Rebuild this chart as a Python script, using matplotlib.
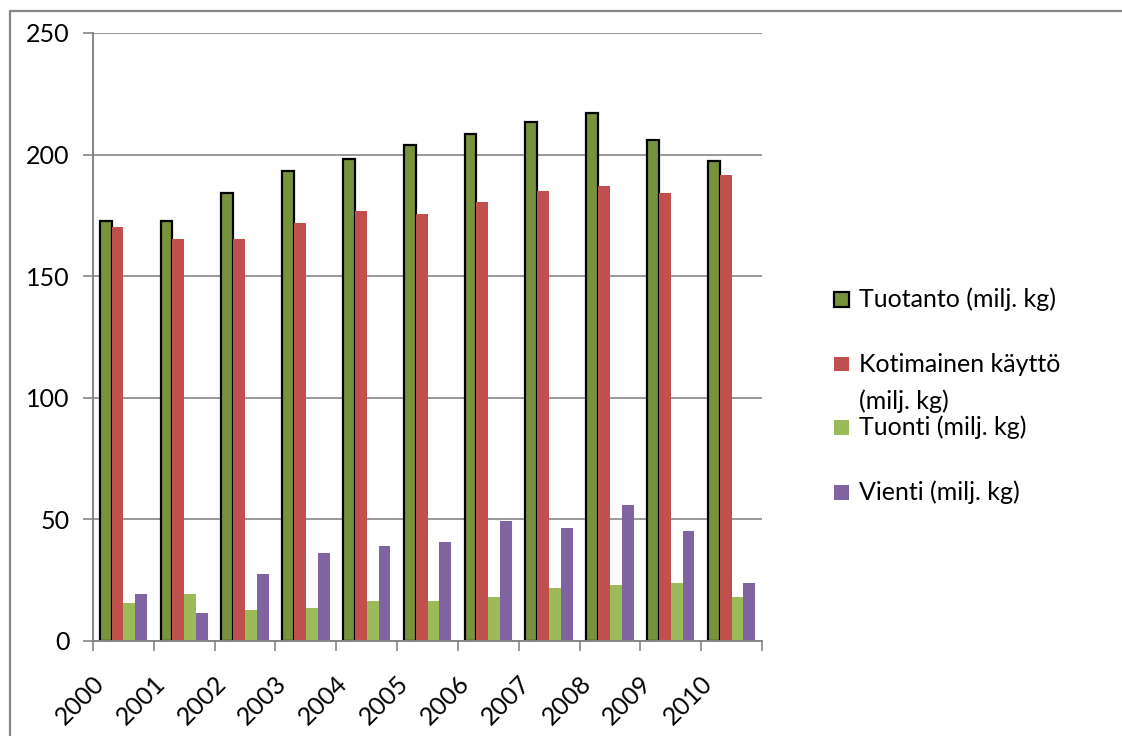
import numpy as np
import matplotlib
matplotlib.use('Agg')
import matplotlib.pyplot as plt
from matplotlib.patches import Rectangle
from matplotlib.lines import Line2D
from matplotlib.transforms import ScaledTranslation

plt.rcParams['font.family'] = ['Lato', 'DejaVu Sans']

# data (milj. kg)
years = ['2000', '2001', '2002', '2003', '2004', '2005', '2006', '2007', '2008', '2009', '2010']
tuotanto = [172.8, 172.8, 184.2, 193.4, 198.1, 203.9, 208.6, 213.3, 217.2, 205.8, 197.4]
kotimainen = [170.4, 165.4, 165.4, 172.0, 177.0, 175.7, 180.6, 185.2, 187.2, 184.4, 191.8]
tuonti = [15.6, 19.3, 12.8, 13.6, 16.5, 16.5, 18.1, 21.8, 23.0, 23.8, 18.1]
vienti = [19.3, 11.5, 27.6, 36.2, 39.1, 40.7, 49.4, 46.5, 56.0, 45.3, 24.0]

series_names = ['Tuotanto (milj. kg)', 'Kotimainen käyttö\n(milj. kg)',
                'Tuonti (milj. kg)', 'Vienti (milj. kg)']
series_colors = ['#77933C', '#C0504D', '#9BBB59', '#8064A2']
series_edges = ['black', 'none', 'none', 'none']
all_series = [tuotanto, kotimainen, tuonti, vienti]

W, H = 1122, 736
fig = plt.figure(figsize=(W / 100, H / 100), dpi=100)
ax = fig.add_axes([93 / W, 1 - 641 / H, (762 - 93) / W, (641 - 33) / H])

grey = '#868686'
fs = 18
x = np.arange(len(years))
bw = 0.195
for k, (vals, col, ec) in enumerate(zip(all_series, series_colors, series_edges)):
    lw = 1.6 if ec != 'none' else 0
    ax.bar(x + (k - 1.5) * bw, vals, width=bw, color=col, edgecolor=ec,
           linewidth=lw, zorder=3 if k else 2.5)

ax.set_xlim(-0.5, len(years) - 0.5)
ax.set_ylim(0, 250)
ax.set_yticks(np.arange(0, 251, 50))
ax.yaxis.grid(True, color=grey, linewidth=1.2, zorder=1)
ax.set_axisbelow(True)

for s in ['top', 'right']:
    ax.spines[s].set_visible(False)
for s in ['left', 'bottom']:
    ax.spines[s].set_color(grey)
    ax.spines[s].set_linewidth(1.4)
    ax.spines[s].set_zorder(4)

ax.tick_params(axis='y', direction='out', length=7, width=1.2, color=grey,
               labelsize=fs, pad=10, labelcolor='black')

# category boundaries as major ticks, labels on minor ticks at centres
ax.set_xticks(np.arange(-0.5, len(years), 1.0))
ax.set_xticklabels([])
ax.set_xticks(x, minor=True)
ax.set_xticklabels(years, minor=True, rotation=45, ha='right', va='top',
                   rotation_mode='anchor')
ax.tick_params(axis='x', which='major', direction='out', length=7, width=1.2, color=grey)
ax.tick_params(axis='x', which='minor', length=0, labelsize=fs, pad=22)
for lab in ax.get_xticklabels(minor=True):
    lab.set_transform(lab.get_transform() + ScaledTranslation(-0.31, 0, fig.dpi_scale_trans))

# legend drawn by hand to follow the Excel layout
leg_y = [299, 364, 427, 492]
for name, col, ec, py in zip(series_names, series_colors, series_edges, leg_y):
    sq = 15
    fig.add_artist(Rectangle(((834) / W, 1 - (py + sq / 2) / H), sq / W, sq / H,
                             transform=fig.transFigure, facecolor=col,
                             edgecolor=ec if ec != 'none' else col,
                             linewidth=1.6 if ec != 'none' else 0))
    for j, line in enumerate(name.split('\n')):
        fig.text(859 / W, 1 - (py + j * 37) / H, line, fontsize=fs,
                 ha='left', va='center', color='black')

# chart area border (cropped on right and bottom)
fig.add_artist(Line2D([10 / W, 10 / W, 1.0], [0.0, 1 - 11 / H, 1 - 11 / H],
                      transform=fig.transFigure, color=grey, linewidth=1.6))

fig.savefig('out.png', dpi=100)
